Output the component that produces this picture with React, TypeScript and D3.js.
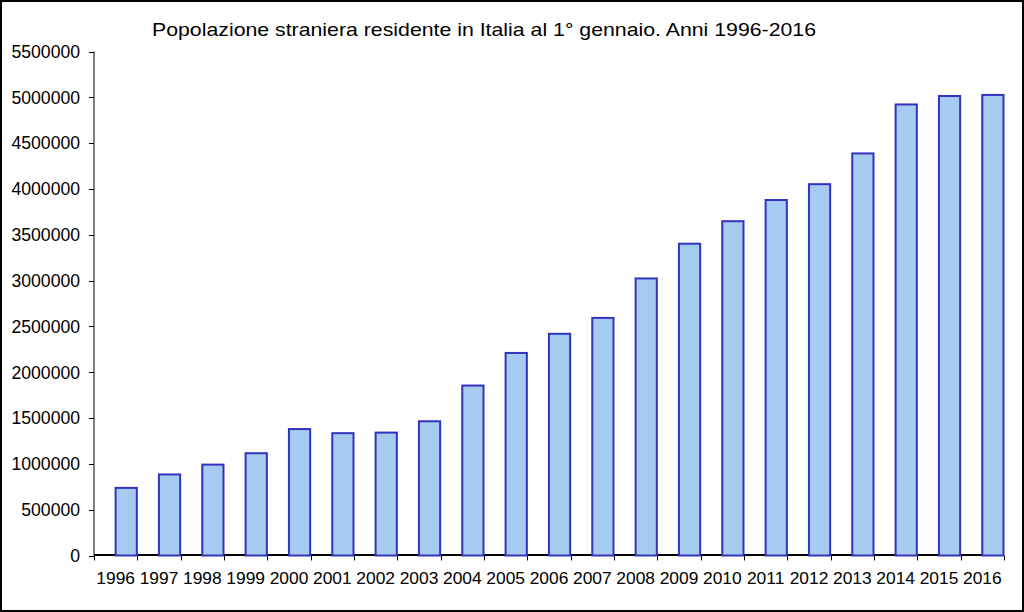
import React from "react";
import * as d3 from "d3";

const years: string[] = ["1996","1997","1998","1999","2000","2001","2002","2003","2004","2005","2006","2007","2008","2009","2010","2011","2012","2013","2014","2015","2016"];
const population: number[] = [737793, 884555, 991678, 1116394, 1379749, 1334889, 1341209, 1464663, 1854748, 2210478, 2419483, 2592950, 3023317, 3402435, 3648128, 3879224, 4052081, 4387721, 4922085, 5014437, 5026153];
const yTicks: number[] = [0, 500000, 1000000, 1500000, 2000000, 2500000, 3000000, 3500000, 4000000, 4500000, 5000000, 5500000];
const title = "Popolazione straniera residente in Italia al 1° gennaio. Anni 1996-2016";

const W = 1024, H = 612;
const left = 94, right = 1004, top = 51.5, bottom = 555.5;
const font = "'Liberation Sans', Arial, sans-serif";

export default function App() {
  const x = d3.scaleBand<string>().domain(years).range([left, right]).padding(0);
  const y = d3.scaleLinear().domain([0, 5500000]).range([bottom, top]);
  const bw = x.bandwidth();
  const barW = bw * 0.49;
  return (
    <svg width={W} height={H} style={{ position: "absolute", left: 0, top: 0, background: "#fff" }} fontFamily={font}>
      <rect x={1} y={1} width={W - 2} height={H - 2} fill="#fff" stroke="#000" strokeWidth={2} />
      <text x={484} y={36} textAnchor="middle" fontSize={18.5} fill="#000" textLength={664} lengthAdjust="spacingAndGlyphs">{title}</text>
      {/* y axis */}
      <line x1={left} x2={left} y1={top} y2={bottom} stroke="#000" strokeWidth={1} />
      {yTicks.map((t) => (
        <g key={t}>
          <line x1={left - 5} x2={left} y1={Math.round(y(t)) + 0.5} y2={Math.round(y(t)) + 0.5} stroke="#000" />
          <text x={80} y={y(t) + 6.3} textAnchor="end" fontSize={17.6} fill="#000">{t}</text>
        </g>
      ))}
      {/* baseline */}
      <line x1={left} x2={right} y1={bottom - 0.5} y2={bottom - 0.5} stroke="#000" strokeWidth={2} />
      {/* x ticks */}
      {years.map((yr) => (
        <line key={"t" + yr} x1={Math.round(x(yr)!) + 0.5} x2={Math.round(x(yr)!) + 0.5} y1={bottom} y2={bottom + 5} stroke="#000" />
      ))}
      <line x1={right + 0.5} x2={right + 0.5} y1={bottom} y2={bottom + 5} stroke="#000" />
      {/* bars */}
      {years.map((yr, i) => {
        const x0 = x(yr)! + bw - barW - 0.5;
        const yt = y(population[i]);
        return (
          <rect key={yr} x={x0} y={yt} width={barW} height={bottom - yt} fill="#a6caf0" stroke="#3333bb" strokeWidth={2} />
        );
      })}
      {years.map((yr) => (
        <text key={"l" + yr} x={x(yr)! + bw / 2} y={583.5} textAnchor="middle" fontSize={17.4} fill="#000">{yr}</text>
      ))}
    </svg>
  );
}
